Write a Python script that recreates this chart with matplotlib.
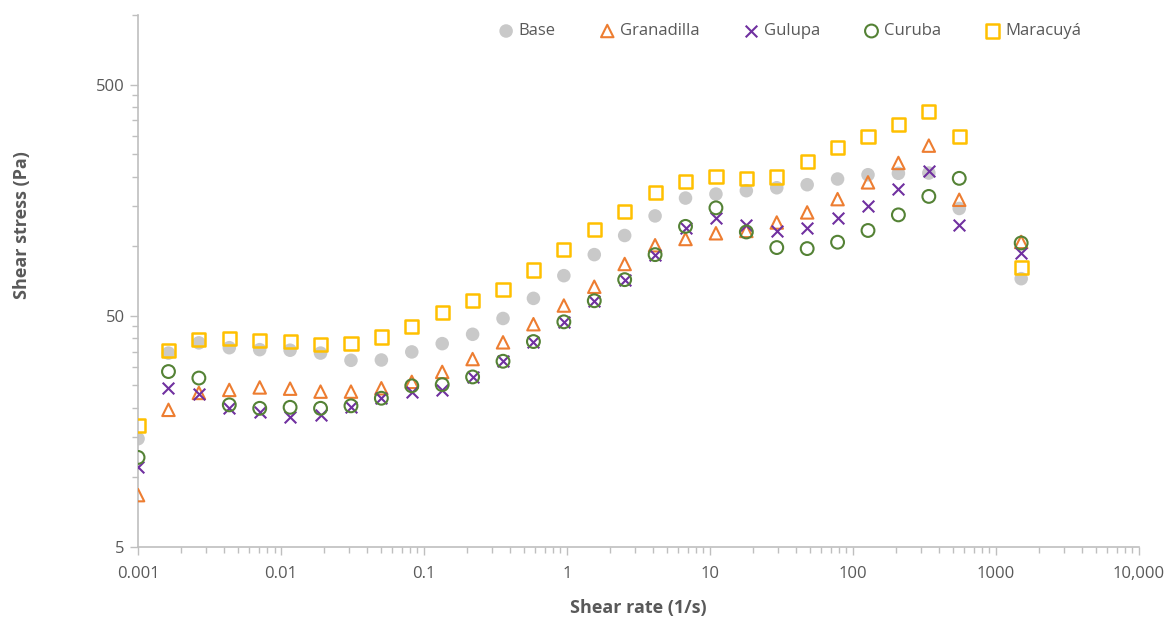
import matplotlib
matplotlib.use("Agg")
import matplotlib.pyplot as plt
from matplotlib import font_manager
from matplotlib.ticker import FixedLocator, NullFormatter, LogLocator

available = {f.name for f in font_manager.fontManager.ttflist}
family = next((f for f in ["Liberation Sans Narrow", "Open Sans", "DejaVu Sans"] if f in available), "DejaVu Sans")
plt.rcParams['font.family'] = [family, 'DejaVu Sans']

shear_rate = [0.001, 0.001632, 0.002663, 0.004346, 0.007093, 0.01157, 0.01889, 0.03083,
              0.0503, 0.08209, 0.134, 0.2186, 0.3568, 0.5822, 0.9502, 1.551, 2.53, 4.129,
              6.739, 11.0, 17.95, 29.29, 47.8, 78.0, 127.3, 207.7, 339.0, 553.3, 1500]

base = [14.7, 34.5, 38.2, 36.4, 35.7, 35.5, 34.5, 32.1, 32.2, 34.9, 37.9, 41.6, 48.7, 59.5,
        74.6, 92.0, 111.3, 135.3, 161.6, 168.2, 173.9, 179.1, 184.6, 195.4, 203.9, 206.8,
        207.4, 145.7, 72.4]
granadilla = [8.38, 19.6, 23.2, 23.9, 24.5, 24.2, 23.5, 23.5, 24.3, 25.9, 28.6, 32.5, 38.4,
              46.0, 55.4, 66.8, 83.8, 101.0, 107.5, 113.8, 116.5, 126.7, 140.1, 159.9, 189.0,
              229.3, 272.5, 158.9, 104.4]
gulupa = [11.05, 24.3, 23.0, 19.9, 19.1, 18.3, 18.6, 20.1, 22.1, 23.5, 23.8, 27.2, 31.8,
          38.7, 47.1, 58.1, 71.7, 92.0, 119.7, 132.3, 123.7, 116.5, 120.1, 131.9, 149.6, 176.8,
          210.9, 123.7, 93.9]
curuba = [12.2, 28.7, 26.9, 20.6, 19.9, 20.1, 19.9, 20.4, 22.0, 24.9, 25.2, 27.2, 31.8,
          38.7, 47.1, 58.1, 71.7, 92.0, 121.9, 146.6, 115.3, 98.7, 97.7, 104.1, 117.0, 136.7,
          164.3, 196.7, 103.3]
maracuya = [16.8, 35.3, 39.5, 40.0, 39.1, 38.8, 37.5, 38.0, 40.5, 45.0, 51.8, 58.1, 65.2,
            78.9, 96.7, 118.2, 141.8, 171.5, 190.9, 199.9, 196.7, 199.3, 233.2, 266.4, 298.2,
            335.2, 382.9, 298.2, 80.8]

x_ticks = [0.001, 0.01, 0.1, 1, 10, 100, 1000, 10000]
x_tick_labels = ["0.001", "0.01", "0.1", "1", "10", "100", "1000", "10,000"]
y_ticks = [5, 50, 500]
y_tick_labels = ["5", "50", "500"]

fig = plt.figure(figsize=(11.67, 6.17), dpi=100)
ax = fig.add_axes([0.1183, 0.1135, 0.8577, 0.862])

gridc = "#bfbfbf"
textc = "#595959"

ax.scatter(shear_rate, base, marker='o', s=95, color="#c9c9c9", edgecolors='none', label="Base", zorder=2)
ax.scatter(shear_rate, granadilla, marker='^', s=80, facecolors='none', edgecolors="#ed7d31", linewidths=1.5, label="Granadilla", zorder=3)
ax.scatter(shear_rate, gulupa, marker='x', s=70, color="#7030a0", linewidths=1.5, label="Gulupa", zorder=3)
ax.scatter(shear_rate, curuba, marker='o', s=85, facecolors='none', edgecolors="#548235", linewidths=1.5, label="Curuba", zorder=3)
ax.scatter(shear_rate, maracuya, marker='s', s=90, facecolors='none', edgecolors="#ffc000", linewidths=1.8, label="Maracuyá", zorder=4)

ax.set_xscale('log')
ax.set_yscale('log')
ax.set_xlim(0.001, 10000)
ax.set_ylim(5, 1000)

ax.xaxis.set_major_locator(FixedLocator(x_ticks))
ax.set_xticklabels(x_tick_labels)
ax.xaxis.set_minor_locator(LogLocator(base=10, subs=[2, 3, 4, 5, 6, 7, 8, 9], numticks=20))
ax.xaxis.set_minor_formatter(NullFormatter())

ax.yaxis.set_major_locator(FixedLocator(y_ticks))
ax.set_yticklabels(y_tick_labels)
ax.yaxis.set_minor_locator(FixedLocator([5 * k * 10 ** n for n in range(0, 3) for k in range(2, 10)]))
ax.yaxis.set_minor_formatter(NullFormatter())

for s in ['top', 'right']:
    ax.spines[s].set_visible(False)
for s in ['left', 'bottom']:
    ax.spines[s].set_color(gridc)
    ax.spines[s].set_linewidth(1.2)

ax.tick_params(which='major', length=6, width=1, color=gridc, labelcolor=textc, labelsize=12)
ax.tick_params(which='minor', length=4, width=1, color=gridc)
ax.tick_params(axis='x', pad=8)

ax.set_xlabel("Shear rate (1/s)", fontsize=13, fontweight='bold', color=textc, labelpad=12)
ax.set_ylabel("Shear stress (Pa)", fontsize=13, fontweight='bold', color=textc)
ax.yaxis.set_label_coords(-0.107, 0.605)

leg = ax.legend(loc='upper right', bbox_to_anchor=(0.949, 0.997), ncol=5, frameon=False,
                fontsize=12, handlelength=1.0, handletextpad=0.25, columnspacing=2.6,
                labelcolor=textc, borderaxespad=0)

fig.savefig("out.png", dpi=100)
